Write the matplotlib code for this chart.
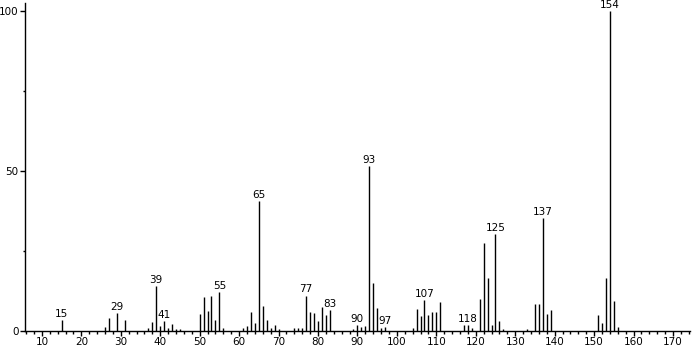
import matplotlib
matplotlib.use("Agg")
import matplotlib.pyplot as plt
from matplotlib.ticker import MultipleLocator

plt.rcParams["font.family"] = ["DejaVu Sans"]

mz = [15, 26, 27, 29, 31, 37, 38, 39, 40, 41, 42, 43, 44, 45, 50, 51, 52, 53, 54, 55, 56,
      61, 62, 63, 64, 65, 66, 67, 68, 69, 70, 74, 75, 76, 77, 78, 79, 80, 81, 82, 83,
      89, 90, 91, 92, 93, 94, 95, 96, 97, 104, 105, 106, 107, 108, 109, 110, 111,
      117, 118, 119, 121, 122, 123, 124, 125, 126, 127, 133, 135, 136, 137, 138, 139,
      151, 152, 153, 154, 155, 156]
intensity = [3.4, 1.2, 4.0, 5.6, 3.4, 1.0, 2.8, 13.9, 1.5, 3.1, 0.8, 2.2, 0.6, 0.6, 5.3, 10.5, 6.2, 10.9, 3.2, 12.1, 0.8,
             1.0, 1.5, 6.0, 2.5, 40.5, 7.8, 3.4, 1.0, 1.9, 0.5, 1.0, 1.0, 1.0, 11.0, 6.0, 5.6, 2.9, 7.5, 4.8, 6.5,
             0.6, 1.9, 1.2, 1.5, 51.6, 14.9, 7.1, 1.0, 1.2, 1.0, 6.8, 4.7, 9.6, 5.0, 6.0, 6.0, 9.1,
             1.7, 1.9, 1.0, 9.9, 27.3, 16.5, 1.9, 30.1, 2.9, 0.6, 0.5, 8.2, 8.5, 35.1, 5.1, 6.6,
             5.0, 2.5, 16.5, 100.0, 9.4, 1.2]
labeled = [15, 29, 39, 41, 55, 65, 77, 83, 90, 93, 97, 107, 118, 125, 137, 154]
x_ticks = list(range(10, 171, 10))
y_ticks = [0, 50, 100]

fig = plt.figure(figsize=(6.92, 3.5), dpi=100)
ax = fig.add_axes([0.0366, 0.0551, 0.9604, 0.9363])
ax.vlines(mz, 0, intensity, colors="black", linewidth=1.0)
ax.set_xlim(5.8, 174.3)
ax.set_ylim(0, 102.4)
for s in ["top", "right"]:
    ax.spines[s].set_visible(False)
ax.spines["left"].set_linewidth(1.0)
ax.spines["bottom"].set_linewidth(1.0)
ax.set_xticks(x_ticks)
ax.set_yticks(y_ticks)
ax.xaxis.set_minor_locator(MultipleLocator(2))
ax.yaxis.set_minor_locator(MultipleLocator(25))
ax.tick_params(axis="both", which="major", length=3.3, width=1, labelsize=7.5, pad=1.5, direction="out")
ax.tick_params(axis="both", which="minor", length=1.8, width=1, direction="out")

lookup = dict(zip(mz, intensity))
for m in labeled:
    ax.annotate(str(m), (m, lookup[m]), xytext=(0, 2.2), textcoords="offset points",
                ha="center", va="baseline", fontsize=7.5, annotation_clip=False)

fig.savefig("out.png", dpi=100)
